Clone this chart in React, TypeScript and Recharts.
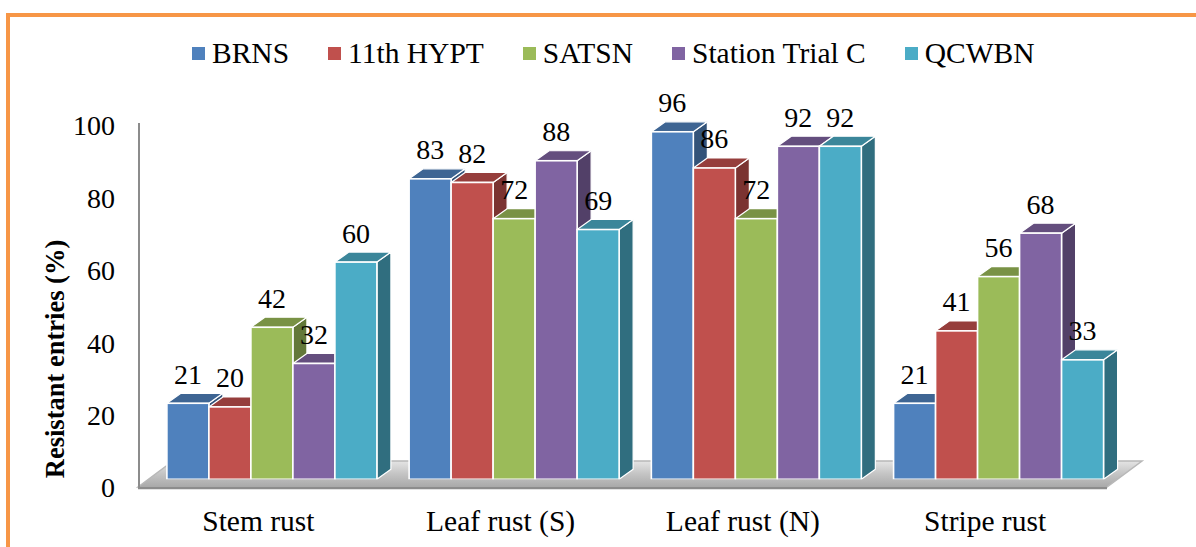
import React from 'react';
import { BarChart, Bar, XAxis, YAxis, Legend, LabelList } from 'recharts';

const categories = ['Stem rust', 'Leaf rust (S)', 'Leaf rust (N)', 'Stripe rust'];
const brns = [21, 83, 96, 21];
const hypt11 = [20, 82, 86, 41];
const satsn = [42, 72, 72, 56];
const stationTrialC = [32, 88, 92, 68];
const qcwbn = [60, 69, 92, 33];

const seriesNames = ['BRNS', '11th HYPT', 'SATSN', 'Station Trial C', 'QCWBN'];
const seriesValues = [brns, hypt11, satsn, stationTrialC, qcwbn];
const seriesKeys = ['s0', 's1', 's2', 's3', 's4'];
const seriesColors = ['#4F81BD', '#C0504D', '#9BBB59', '#8064A2', '#4BACC6'];
const yTicks = [0, 20, 40, 60, 80, 100];

const data = categories.map((c, i) => {
  const row: any = { category: c };
  seriesKeys.forEach((k, j) => {
    row[k] = seriesValues[j][i];
  });
  return row;
});

const FONT = "'Liberation Serif', 'Times New Roman', Tinos, 'DejaVu Serif', 'Noto Serif', serif";
const FS = 28;
const FS_TEXT = 29.5;
const DX = 14;
const DY = 10;

function shade(hex: string, f: number) {
  const n = parseInt(hex.slice(1), 16);
  const r = Math.round(((n >> 16) & 255) * f);
  const g = Math.round(((n >> 8) & 255) * f);
  const b = Math.round((n & 255) * f);
  return `rgb(${r},${g},${b})`;
}

function Bar3D(props: any) {
  const { x, y, width, height, fill } = props;
  if (x == null || y == null || !width || height == null) return null;
  const x2 = x + width;
  const y2 = y + height;
  const top = shade(fill, 0.78);
  const side = shade(fill, 0.64);
  return (
    <g>
      <polygon
        points={`${x2},${y} ${x2 + DX},${y - DY} ${x2 + DX},${y2 - DY} ${x2},${y2}`}
        fill={side}
        stroke="#fff"
        strokeWidth={1.2}
        strokeLinejoin="round"
      />
      <polygon
        points={`${x},${y} ${x + DX},${y - DY} ${x2 + DX},${y - DY} ${x2},${y}`}
        fill={top}
        stroke="#fff"
        strokeWidth={1.2}
        strokeLinejoin="round"
      />
      <rect x={x} y={y} width={width} height={height} fill={fill} stroke="#fff" strokeWidth={1.6} />
    </g>
  );
}

function ValueLabel(props: any) {
  const vb = props.viewBox && props.viewBox.width != null ? props.viewBox : props;
  const { x, y, width } = vb;
  if (x == null || y == null) return null;
  return (
    <text x={x + width / 2} y={y - 19.5} textAnchor="middle" style={{ fontFamily: FONT }} fontSize={FS} fill="#000">
      {props.value}
    </text>
  );
}

function XTick(props: any) {
  const { x, y, payload } = props;
  return (
    <text x={x - 13} y={y + 51.7} textAnchor="middle" style={{ fontFamily: FONT }} fontSize={FS_TEXT} fill="#000">
      {payload.value}
    </text>
  );
}

function YTick(props: any) {
  const { x, y, payload } = props;
  return (
    <text x={x} y={y + 18} textAnchor="end" style={{ fontFamily: FONT }} fontSize={FS} fill="#000">
      {payload.value}
    </text>
  );
}

function YTitle() {
  return (
    <text
      transform="translate(63.5,359) rotate(-90)"
      textAnchor="middle"
      style={{ fontFamily: FONT }}
      fontSize={26.5}
      fontWeight="bold"
      fill="#000"
    >
      Resistant entries (%)
    </text>
  );
}

const renderLegend = () => (
  <div
    style={{
      display: 'flex',
      alignItems: 'center',
      height: 40,
      paddingLeft: 192,
      fontFamily: FONT,
      fontSize: FS_TEXT,
      color: '#000',
      boxSizing: 'border-box',
    }}
  >
    {seriesNames.map((n, i) => (
      <div key={n} style={{ display: 'flex', alignItems: 'center', marginRight: 39 }}>
        <span
          style={{
            width: 13,
            height: 13,
            background: seriesColors[i],
            display: 'inline-block',
            marginRight: 7,
          }}
        />
        <span style={{ lineHeight: '40px', whiteSpace: 'nowrap' }}>{n}</span>
      </div>
    ))}
  </div>
);

export default function App() {
  return (
    <div
      style={{
        position: 'absolute',
        left: 0,
        top: 0,
        width: 1196,
        height: 547,
        overflow: 'hidden',
        background: '#fff',
        fontFamily: FONT,
      }}
    >
      <div
        style={{
          position: 'absolute',
          left: 6,
          top: 13,
          width: 1300,
          height: 700,
          border: '4px solid #F79646',
          boxSizing: 'border-box',
        }}
      />
      <svg width={1196} height={547} style={{ position: 'absolute', left: 0, top: 0 }}>
        <defs>
          <linearGradient id="floorGrad" x1="0" y1="0" x2="0" y2="1">
            <stop offset="0" stopColor="#E4E4E4" />
            <stop offset="0.5" stopColor="#C4C4C4" />
            <stop offset="1" stopColor="#A9A9A9" />
          </linearGradient>
        </defs>
        <polygon
          points="138,487 173,461 1142,461 1107,487"
          fill="url(#floorGrad)"
          stroke="#B8B8B8"
          strokeWidth={1.5}
        />
        <line x1={138} y1={488} x2={1107} y2={488} stroke="#8C8C8C" strokeWidth={2.5} />
        <line x1={139} y1={123} x2={139} y2={488} stroke="#8C8C8C" strokeWidth={2} />
      </svg>
      <div style={{ position: 'absolute', left: 0, top: 0 }}>
        <BarChart
          width={1196}
          height={547}
          data={data}
          margin={{ top: 77.3, right: 76.8, bottom: 0, left: 0 }}
          barCategoryGap={16.6}
          barGap={0}
          style={{ fontFamily: FONT }}
        >
          <XAxis
            dataKey="category"
            height={67.7}
            padding={{ left: 11.3, right: 0 }}
            axisLine={false}
            tickLine={false}
            tickSize={0}
            tickMargin={0}
            interval={0}
            tick={<XTick />}
          />
          <YAxis
            width={139}
            domain={[0, 100]}
            ticks={yTicks}
            allowDataOverflow
            axisLine={false}
            tickLine={false}
            tickSize={0}
            tickMargin={24}
            tick={<YTick />}
            label={<YTitle />}
          />
          <Legend
            verticalAlign="top"
            content={renderLegend}
            wrapperStyle={{ top: 33, left: 0, width: 1196, height: 40, margin: 0, padding: 0 }}
          />
          {seriesKeys.map((k, i) => (
            <Bar
              key={k}
              dataKey={k}
              name={seriesNames[i]}
              fill={seriesColors[i]}
              shape={<Bar3D />}
              isAnimationActive={false}
            >
              <LabelList dataKey={k} content={<ValueLabel />} />
            </Bar>
          ))}
        </BarChart>
      </div>
    </div>
  );
}
